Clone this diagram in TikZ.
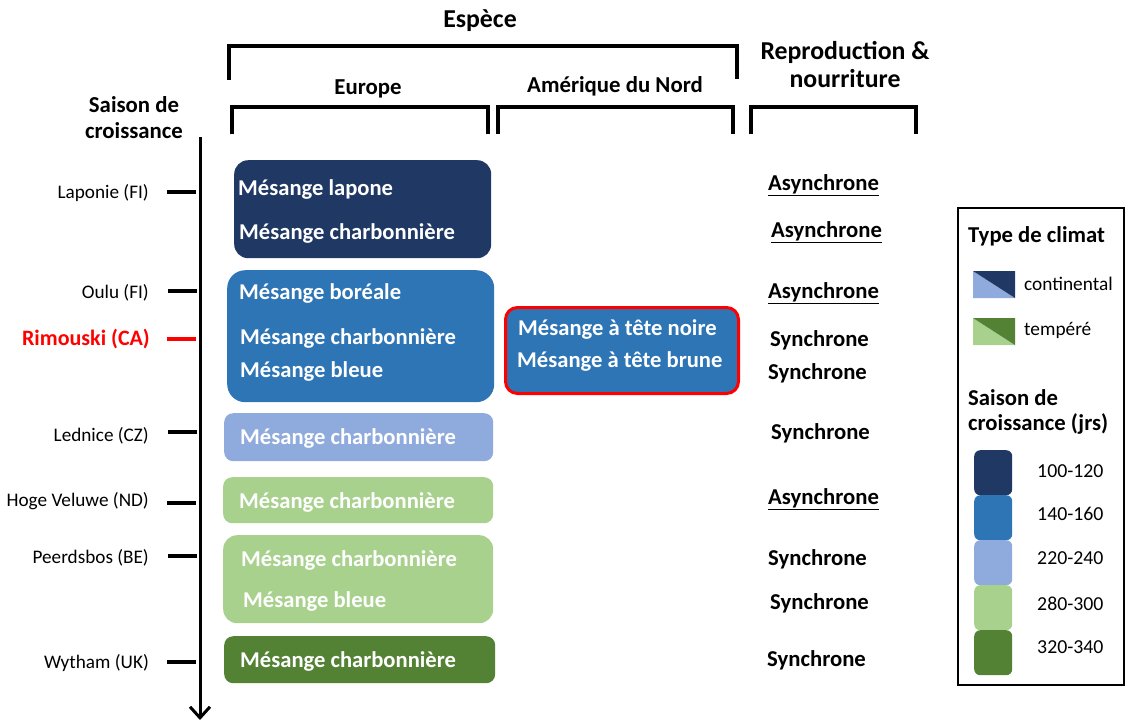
\documentclass[tikz,border=0pt]{standalone}
\usepackage{fontspec}
\setmainfont{Carlito}
\usetikzlibrary{arrows.meta}
\definecolor{navy}{HTML}{203864}
\definecolor{medblue}{HTML}{2E75B6}
\definecolor{ltblue}{HTML}{8FAADC}
\definecolor{ltgreen}{HTML}{A9D18E}
\definecolor{dkgreen}{HTML}{548235}
\definecolor{rimred}{HTML}{FF0000}
\begin{document}
\begin{tikzpicture}[x=1pt,y=-1pt,
  bx/.style={rounded corners=14pt, anchor=north west, inner sep=0pt, draw=none},
  sw/.style={rounded corners=6pt, anchor=north west, inner sep=0pt, minimum width=38pt, minimum height=45pt},
  wt/.style={font=\fontsize{22.6}{26}\selectfont\bfseries, text=white, anchor=west, inner sep=0pt, yshift=-2pt},
  hd/.style={font=\fontsize{22.8}{27}\selectfont\bfseries, inner sep=0pt, align=center},
  bigh/.style={font=\fontsize{25.8}{30}\selectfont\bfseries, inner sep=0pt, align=center},
  site/.style={font=\fontsize{19.2}{22}\selectfont, anchor=east, inner sep=0pt, yshift=-1.5pt},
  rep/.style={font=\fontsize{22.7}{26}\selectfont\bfseries, anchor=west, inner sep=0pt, yshift=-2pt},
  lg/.style={font=\fontsize{19.3}{22}\selectfont, anchor=west, inner sep=0pt, yshift=-1.5pt},
  num/.style={font=\fontsize{19.8}{22}\selectfont, anchor=west, inner sep=0pt, yshift=-1.5pt},
  brk/.style={line width=3.5pt},
  tick/.style={line width=4pt}]
\useasboundingbox (0,0) rectangle (1126,724);

% ---- headers and brackets
\node[bigh] (espece) at (480,21) {Espèce};
\draw[brk] (229,80) -- (229,46) -- (737,46) -- (737,79);
\node[hd] (europe) at (368,89) {Europe};
\node[hd] (amerique) at (615,86) {Amérique du Nord};
\node[bigh] (repro) at (845,65) {Reproduction \&\\[-2pt]nourriture};
\draw[brk] (232,134) -- (232,107) -- (488,107) -- (488,134);
\draw[brk] (498,134) -- (498,107) -- (733,107) -- (733,134);
\draw[brk] (751,134) -- (751,107) -- (916,107) -- (916,134);
\node[hd] (saison) at (134,118) {Saison de\\[-1pt]croissance};

% ---- axis
\coordinate (axtop) at (200,137);
\coordinate (axbot) at (200,720);
\draw[line width=3pt, -{Straight Barb[length=11pt,width=20pt,line width=3pt]}] (axtop) -- (axbot);

% ---- sites and ticks
\node[site] (lap) at (149,192) {Laponie (FI)};
\node[site] (oulu) at (149,291) {Oulu (FI)};
\node[site, font=\fontsize{22}{24}\selectfont\bfseries, text=rimred] (rim) at (150,337) {Rimouski (CA)};
\node[site] (led) at (149,434) {Lednice (CZ)};
\node[site] (hoge) at (149,500) {Hoge Veluwe (ND)};
\node[site] (peer) at (149,556) {Peerdsbos (BE)};
\node[site] (wyt) at (149,662) {Wytham (UK)};
\coordinate (t1a) at (167,192); \coordinate (t1b) at (196,192);
\coordinate (t2a) at (168,291); \coordinate (t2b) at (197,291);
\coordinate (t3a) at (167,339); \coordinate (t3b) at (196,339);
\coordinate (t4a) at (168,432); \coordinate (t4b) at (197,432);
\coordinate (t5a) at (167,503); \coordinate (t5b) at (196,503);
\coordinate (t6a) at (168,556); \coordinate (t6b) at (197,556);
\coordinate (t7a) at (167,662); \coordinate (t7b) at (196,662);
\draw[tick] (t1a) -- (t1b);
\draw[tick] (t2a) -- (t2b);
\draw[tick, rimred] (t3a) -- (t3b);
\draw[tick] (t4a) -- (t4b);
\draw[tick] (t5a) -- (t5b);
\draw[tick] (t6a) -- (t6b);
\draw[tick] (t7a) -- (t7b);

% ---- species boxes
\node[bx, fill=navy, minimum width=257pt, minimum height=98pt] (b1) at (234,160) {};
\node[wt] (b1a) at (238,187) {Mésange lapone};
\node[wt] (b1b) at (239,231) {Mésange charbonnière};

\node[bx, fill=medblue, minimum width=267pt, minimum height=132pt, rounded corners=18pt] (b2) at (227,270) {};
\node[wt] (b2a) at (239,291) {Mésange boréale};
\node[wt] (b2b) at (240,336) {Mésange charbonnière};
\node[wt] (b2c) at (240,369) {Mésange bleue};

\node[bx, fill=medblue, draw=rimred, line width=3pt, rounded corners=12pt, minimum width=233pt, minimum height=86pt] (na) at (504,306) {};
\node[wt] (naa) at (518,327) {Mésange à tête noire};
\node[wt] (nab) at (517,359) {Mésange à tête brune};

\node[bx, fill=ltblue, rounded corners=9pt, minimum width=269pt, minimum height=48pt] (b3) at (224,413) {};
\node[wt] (b3a) at (240,436) {Mésange charbonnière};

\node[bx, fill=ltgreen, rounded corners=9pt, minimum width=270pt, minimum height=46pt] (b4) at (223,477) {};
\node[wt] (b4a) at (239,500) {Mésange charbonnière};

\node[bx, fill=ltgreen, rounded corners=14pt, minimum width=270pt, minimum height=88pt] (b5) at (223,535) {};
\node[wt] (b5a) at (241,558) {Mésange charbonnière};
\node[wt] (b5b) at (243,599) {Mésange bleue};

\node[bx, fill=dkgreen, rounded corners=9pt, minimum width=271pt, minimum height=47pt] (b6) at (224,636) {};
\node[wt] (b6a) at (240,659) {Mésange charbonnière};

% ---- reproduction column
\node[rep] (r1) at (768,183) {\underline{Asynchrone}};
\node[rep] (r2) at (771,230) {\underline{Asynchrone}};
\node[rep] (r3) at (768,291) {\underline{Asynchrone}};
\node[rep] (r4) at (770,338) {Synchrone};
\node[rep] (r5) at (768,371) {Synchrone};
\node[rep] (r6) at (771,431) {Synchrone};
\node[rep] (r7) at (768,497) {\underline{Asynchrone}};
\node[rep] (r8) at (768,557) {Synchrone};
\node[rep] (r9) at (770,601) {Synchrone};
\node[rep] (r10) at (767,658) {Synchrone};

% ---- legend
\node[draw, line width=2pt, anchor=north west, minimum width=166pt, minimum height=477pt, inner sep=0pt] (leg) at (957,207) {};
\node[rep] (lt1) at (968,234) {Type de climat};
\fill[ltblue] (973,271) -- (973,298) -- (1015,298) -- cycle;
\fill[navy] (973,271) -- (1015,271) -- (1015,298) -- cycle;
\node[lg] (lcont) at (1024,282) {continental};
\fill[ltgreen] (973,318) -- (973,345) -- (1015,345) -- cycle;
\fill[dkgreen] (973,318) -- (1015,318) -- (1015,345) -- cycle;
\node[lg] (ltemp) at (1024,329) {tempéré};
\node[rep, align=left] (lt2) at (968,410) {Saison de\\[-1pt]croissance (jrs)};
\node[sw, fill=navy] (s1) at (974,450) {};
\node[sw, fill=medblue] (s2) at (974,495) {};
\node[sw, fill=ltblue] (s3) at (974,540) {};
\node[sw, fill=ltgreen] (s4) at (974,585) {};
\node[sw, fill=dkgreen] (s5) at (974,630) {};
\node[num] (l1) at (1037,470) {100-120};
\node[num] (l2) at (1037,512) {140-160};
\node[num] (l3) at (1037,557) {220-240};
\node[num] (l4) at (1037,602) {280-300};
\node[num] (l5) at (1037,646) {320-340};
\end{tikzpicture}
\end{document}
